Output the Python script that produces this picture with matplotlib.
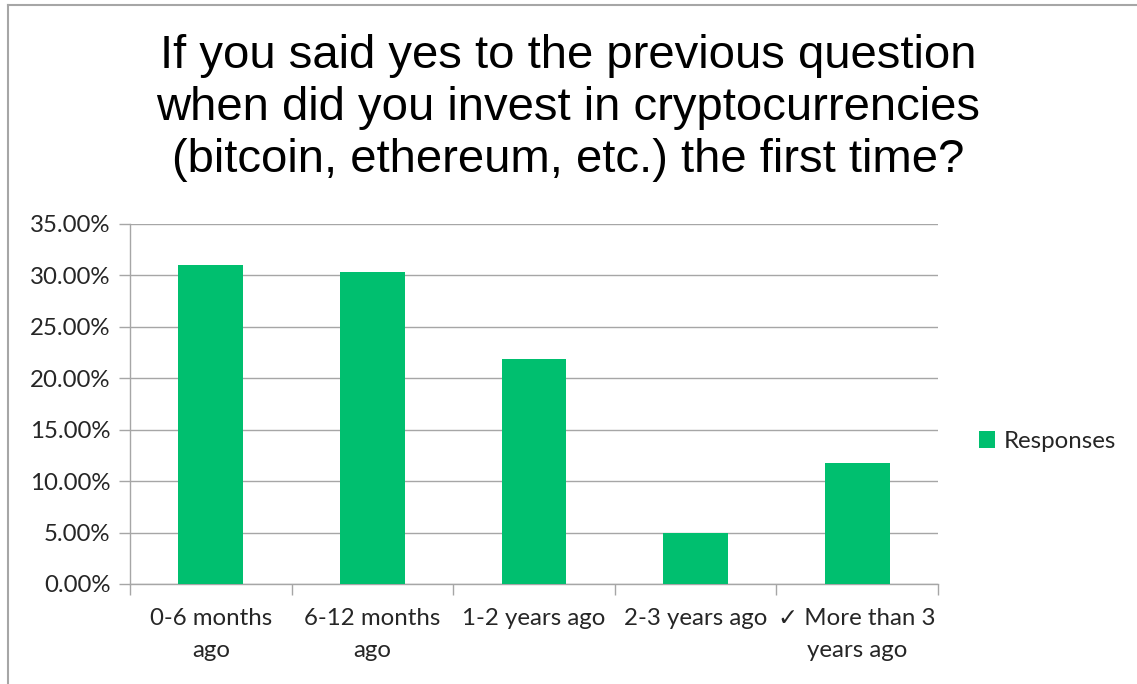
import matplotlib

matplotlib.use("Agg")
import matplotlib.pyplot as plt
from matplotlib.lines import Line2D
from matplotlib.ticker import FixedLocator, FuncFormatter

# Survey answers and share of responses (percent)
categories = [
    "0-6 months\nago",
    "6-12 months\nago",
    "1-2 years ago",
    "2-3 years ago",
    "\u2713 More than 3\nyears ago",
]
shares = [31.0, 30.3, 21.9, 5.0, 11.8]
yTicks = [0, 5, 10, 15, 20, 25, 30, 35]
seriesName = "Responses"
titleText = (
    "If you said yes to the previous question\n"
    "when did you invest in cryptocurrencies\n"
    "(bitcoin, ethereum, etc.) the first time?"
)

barColor = "#00BF6F"
lineColor = "#A6A6A6"
textColor = "#262626"
bodyFont = ["Lato", "DejaVu Sans"]
titleFont = ["Liberation Sans Narrow", "Liberation Sans", "DejaVu Sans"]
bodySize = 17.3

fig = plt.figure(figsize=(11.37, 6.84), dpi=100)
ax = fig.add_axes([130 / 1137, 1 - 584 / 684, 808 / 1137, 360 / 684])

positions = list(range(len(categories)))
ax.bar(positions, shares, width=0.4, color=barColor, label=seriesName, zorder=3)

ax.set_xlim(-0.5, len(categories) - 0.5)
ax.set_ylim(0, 35)
ax.set_yticks(yTicks)
ax.yaxis.set_major_formatter(FuncFormatter(lambda v, p: f"{v:.2f}%"))
ax.grid(axis="y", color=lineColor, linewidth=1.0, zorder=0)

# category labels centred under bars, tick marks on category boundaries
ax.set_xticks(positions)
ax.set_xticklabels(categories, fontsize=bodySize, color=textColor, family=bodyFont,
                   linespacing=1.65)
ax.tick_params(axis="x", length=0, pad=17)
ax.xaxis.set_minor_locator(FixedLocator([p - 0.5 for p in positions] + [len(categories) - 0.5]))
ax.tick_params(axis="x", which="minor", length=8, color=lineColor, width=1.0)
ax.tick_params(axis="y", length=8, color=lineColor, width=1.0, pad=6)
for label in ax.get_yticklabels():
    label.set_fontsize(bodySize)
    label.set_color(textColor)
    label.set_family(bodyFont)

for side in ["top", "right"]:
    ax.spines[side].set_visible(False)
for side in ["left", "bottom"]:
    ax.spines[side].set_color(lineColor)
    ax.spines[side].set_linewidth(1.0)

fig.text(0.5, 1 - 108 / 684, titleText, ha="center", va="center",
         fontsize=34, family=titleFont, color="black", linespacing=1.25)

leg = ax.legend(loc="center left", bbox_to_anchor=((957 - 130) / 808, (584 - 441) / 360),
                frameon=False, handlelength=0.7, handleheight=0.7,
                handletextpad=0.35, prop={"family": bodyFont, "size": bodySize})
for text in leg.get_texts():
    text.set_color(textColor)

# outer chart frame
fig.add_artist(Line2D([8 / 1137, 1], [1 - 5 / 684, 1 - 5 / 684],
                      transform=fig.transFigure, color=lineColor, linewidth=1.5))
fig.add_artist(Line2D([8 / 1137, 8 / 1137], [0, 1 - 5 / 684],
                      transform=fig.transFigure, color=lineColor, linewidth=1.5))

fig.savefig("out.png", dpi=100, facecolor="white")
